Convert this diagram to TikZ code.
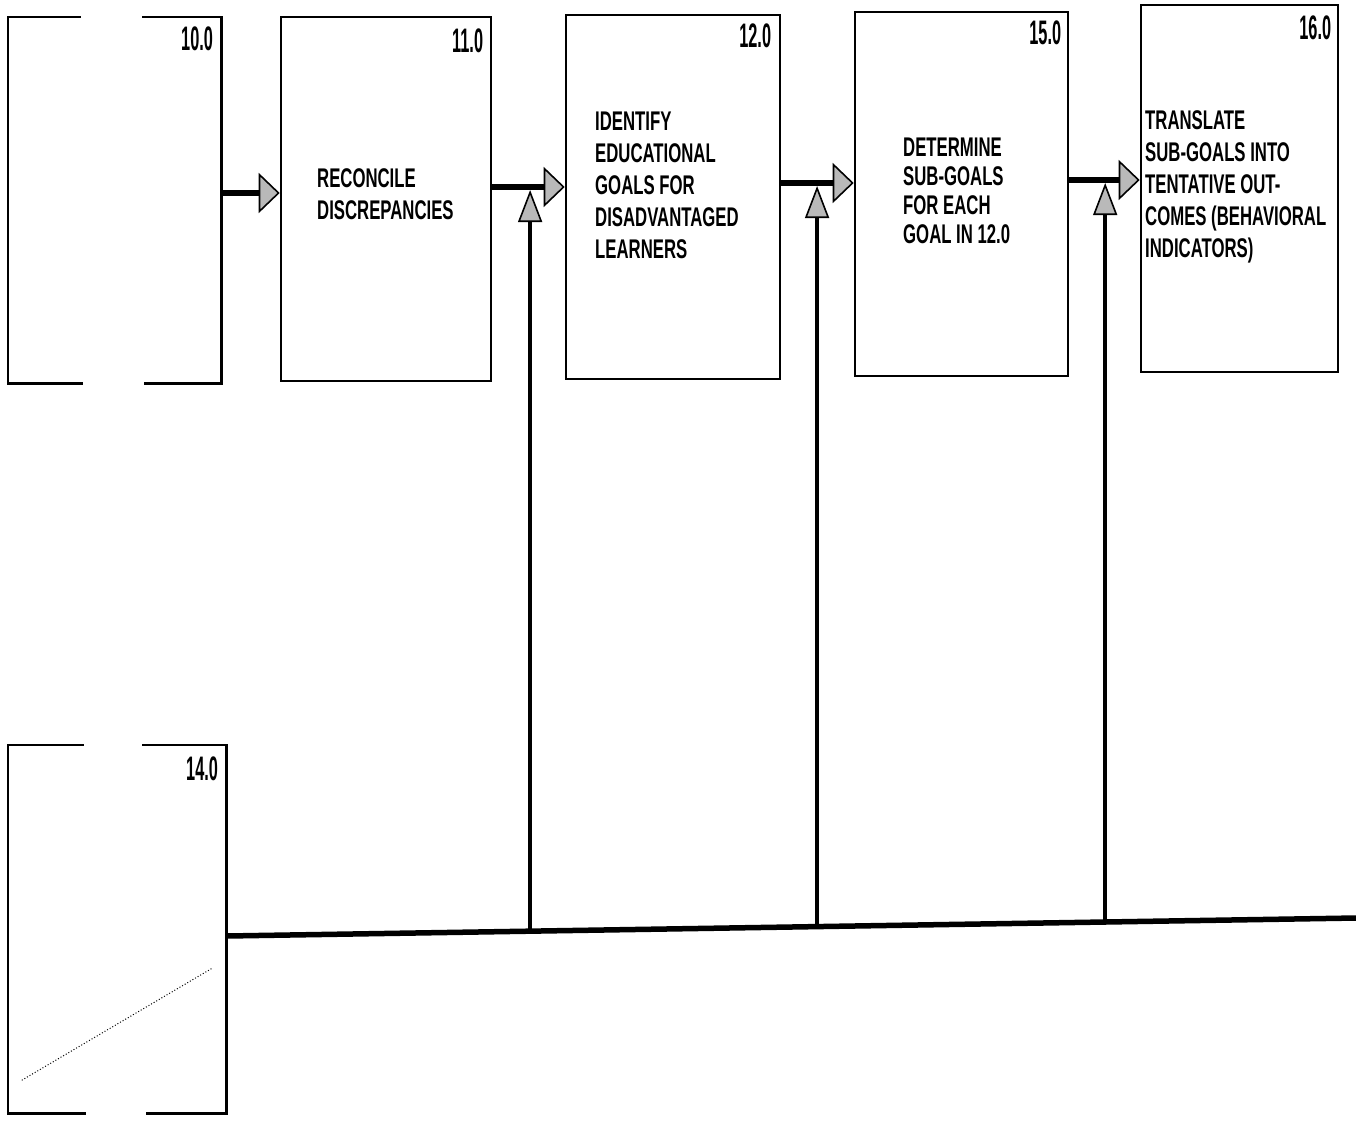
\documentclass[tikz,border=0pt]{standalone}
\usepackage{fontspec}
\newfontfamily\lblfont[FakeStretch=0.62]{Liberation Sans}
\newfontfamily\numfont[FakeStretch=0.48]{Liberation Sans}
\usetikzlibrary{arrows.meta,calc}
\begin{document}
\begin{tikzpicture}[x=1pt,y=-1pt,
  box/.style={draw,line width=2.6pt,fill=white,inner sep=0pt},
  openbox/.style={draw=none,inner sep=0pt},
  edge/.style={line width=2.6pt,line cap=rect},
  txt/.style={font=\lblfont\bfseries\fontsize{27}{32}\selectfont,align=left,inner sep=0pt,anchor=north west},
  num/.style={font=\numfont\bfseries\fontsize{34}{34}\selectfont,inner sep=0pt,anchor=north east},
  flow/.style={line width=6pt,-{Triangle[length=21pt,width=40pt,line width=1.6pt,fill=gray!55]}},
  vflow/.style={line width=3.5pt,-{Triangle[length=32pt,width=24pt,line width=1.6pt,fill=gray!55]}},
  bus/.style={line width=5.5pt}]
\useasboundingbox[fill=white] (0,0) rectangle (1356,1120);

% boxes
\node[openbox,minimum width=213pt,minimum height=366pt] (b10) at (114.5,200) {};
\node[box,minimum width=210pt,minimum height=364pt] (b11) at (386,199) {};
\node[box,minimum width=214pt,minimum height=364pt] (b12) at (673,197) {};
\node[box,minimum width=213pt,minimum height=364pt] (b15) at (961.5,194) {};
\node[box,minimum width=197pt,minimum height=367pt] (b16) at (1239.5,188.5) {};
\node[openbox,minimum width=218pt,minimum height=368pt] (b14) at (117,929) {};

% broken outlines of 10.0 and 14.0
\draw[edge] ([xshift=72pt]b10.north west) -- (b10.north west) -- (b10.south west) -- ([xshift=74pt]b10.south west);
\draw[edge] ([xshift=-78pt]b10.north east) -- (b10.north east) -- (b10.south east) -- ([xshift=-76pt]b10.south east);
\draw[edge] ([xshift=75pt]b14.north west) -- (b14.north west) -- (b14.south west) -- ([xshift=77pt]b14.south west);
\draw[edge] ([xshift=-83pt]b14.north east) -- (b14.north east) -- (b14.south east) -- ([xshift=-79pt]b14.south east);
\draw[line width=1pt,dotted] ([shift={(14pt,33pt)}]b14.south west) -- ([shift={(-14pt,145pt)}]b14.south east);

% numbers
\node[num] (n10) at ([xshift=-8pt,yshift=-10pt]b10.north east) {10.0};
\node[num] (n11) at ([xshift=-9pt,yshift=-13pt]b11.north east) {11.0};
\node[num] (n12) at ([xshift=-10pt,yshift=-10pt]b12.north east) {12.0};
\node[num] (n15) at ([xshift=-8pt,yshift=-10pt]b15.north east) {15.0};
\node[num] (n16) at ([xshift=-8pt,yshift=-12pt]b16.north east) {16.0};
\node[num] (n14) at ([xshift=-8pt,yshift=-12pt]b14.north east) {14.0};

% texts
\node[txt] (t11) at (317,168) {RECONCILE\\DISCREPANCIES};
\node[txt] (t12) at (595,112) {IDENTIFY\\EDUCATIONAL\\GOALS FOR\\DISADVANTAGED\\LEARNERS};
\node[txt,font=\lblfont\bfseries\fontsize{27}{29}\selectfont] (t15) at (903,138) {DETERMINE\\SUB-GOALS\\FOR EACH\\GOAL IN 12.0};
\node[txt] (t16) at (1145,110) {TRANSLATE\\SUB-GOALS INTO\\TENTATIVE OUT-\\COMES (BEHAVIORAL\\INDICATORS)};

% horizontal flow arrows
\coordinate (a1) at ([yshift=7pt]b10.east);
\coordinate (a2) at ([yshift=12pt]b11.east);
\coordinate (a3) at ([yshift=14pt]b12.east);
\coordinate (a4) at ([yshift=14pt]b15.east);
\draw[flow] (a1) -- (a1 -| b11.west);
\draw[flow] (a2) -- (a2 -| b12.west);
\draw[flow] (a3) -- (a3 -| b15.west);
\draw[flow] (a4) -- (a4 -| b16.west);

% bottom bus from 14.0
\coordinate (bs) at ([yshift=-7pt]b14.east);
\coordinate (be) at (1356,918);
\draw[bus] (bs) -- (be);
\coordinate (j1) at ($(bs)!0.269!(be)$);
\coordinate (j2) at ($(bs)!0.523!(be)$);
\coordinate (j3) at ($(bs)!0.778!(be)$);

% vertical feedback arrows
\draw[vflow,shorten >=3pt] (j1) -- (j1 |- a2);
\draw[vflow,shorten >=3pt] (j2) -- (j2 |- a3);
\draw[vflow,shorten >=3pt] (j3) -- (j3 |- a4);
\end{tikzpicture}
\end{document}
